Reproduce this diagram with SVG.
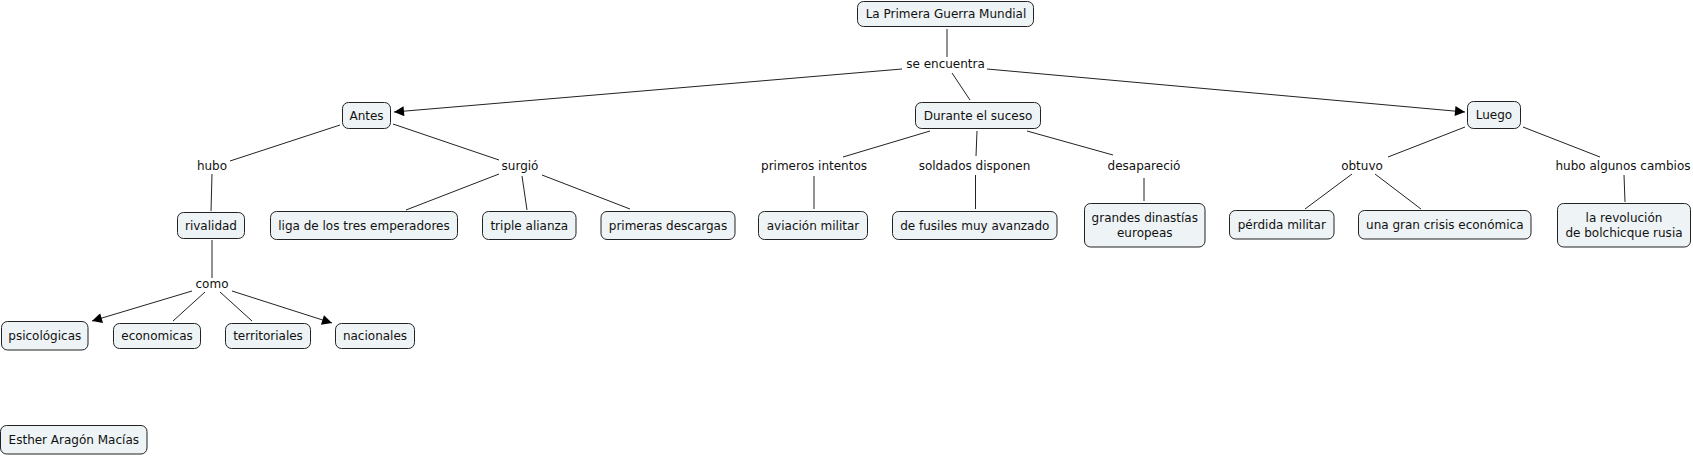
<svg xmlns="http://www.w3.org/2000/svg" width="1693" height="456" viewBox="0 0 1693 456">
<style>
.n rect{fill:#eef3f5;stroke:#222;stroke-width:1}
text{font-family:"DejaVu Sans",Verdana,sans-serif;font-size:12px;fill:#111;text-anchor:middle}
.c line{stroke:#222;stroke-width:1}
</style>
<defs>
<marker id="ah" viewBox="0 0 10 10" refX="10" refY="5" markerWidth="12" markerHeight="10" markerUnits="userSpaceOnUse" orient="auto">
<path d="M0,0L10,5L0,10z" fill="#000"/>
</marker>
</defs>
<rect width="1693" height="456" fill="#fff"/>
<g class="c" id="connectors">
<line x1="947" y1="29" x2="947" y2="57"/>
<line x1="902" y1="69" x2="394" y2="112" marker-end="url(#ah)"/>
<line x1="952" y1="73" x2="970" y2="100"/>
<line x1="987" y1="69" x2="1465" y2="112" marker-end="url(#ah)"/>
<line x1="340" y1="125" x2="230" y2="161"/>
<line x1="393" y1="124" x2="499" y2="160"/>
<line x1="212" y1="174" x2="211" y2="211"/>
<line x1="499" y1="174" x2="406" y2="210"/>
<line x1="522" y1="176" x2="527" y2="210"/>
<line x1="542" y1="175" x2="630" y2="209"/>
<line x1="212" y1="240" x2="212" y2="278"/>
<line x1="192" y1="291" x2="92" y2="321" marker-end="url(#ah)"/>
<line x1="205" y1="292" x2="173" y2="321"/>
<line x1="220" y1="292" x2="252" y2="321"/>
<line x1="232" y1="291" x2="332" y2="323" marker-end="url(#ah)"/>
<line x1="930" y1="131" x2="843" y2="157"/>
<line x1="977" y1="131" x2="976" y2="156"/>
<line x1="1027" y1="131" x2="1113" y2="155"/>
<line x1="814" y1="176" x2="814" y2="209"/>
<line x1="975.5" y1="175" x2="975.5" y2="209"/>
<line x1="1144" y1="178" x2="1144" y2="201"/>
<line x1="1465" y1="127" x2="1388" y2="157"/>
<line x1="1523" y1="127" x2="1600" y2="157"/>
<line x1="1352" y1="174" x2="1305" y2="209"/>
<line x1="1375" y1="174" x2="1421" y2="209"/>
<line x1="1624" y1="175" x2="1625" y2="202"/>
</g>
<g id="labels">
<text id="l-se" x="945.5" y="68.3">se encuentra</text>
<text id="l-hubo" x="212" y="170.3">hubo</text>
<text id="l-surgio" x="520" y="170.3">surgió</text>
<text id="l-como" x="212" y="288.3">como</text>
<text id="l-primeros" x="814" y="170.3">primeros intentos</text>
<text id="l-soldados" x="974.5" y="170.3">soldados disponen</text>
<text id="l-desaparecio" x="1144" y="170.3">desapareció</text>
<text id="l-obtuvo" x="1362" y="170.3">obtuvo</text>
<text id="l-cambios" x="1623" y="170.3">hubo algunos cambios</text>
</g>
<g class="n" id="n-primera"><rect x="857.5" y="1.5" width="176" height="25" rx="6"/><text x="946" y="18.3">La Primera Guerra Mundial</text></g>
<g class="n" id="n-antes"><rect x="342.5" y="102.5" width="48" height="26" rx="6"/><text x="366.5" y="119.8">Antes</text></g>
<g class="n" id="n-durante"><rect x="915.5" y="102.5" width="125" height="26" rx="6"/><text x="978" y="119.8">Durante el suceso</text></g>
<g class="n" id="n-luego"><rect x="1467.5" y="101.5" width="53" height="27" rx="6"/><text x="1494" y="119.3">Luego</text></g>
<g class="n" id="n-rivalidad"><rect x="177.5" y="212.5" width="67" height="26" rx="6"/><text x="211" y="229.8">rivalidad</text></g>
<g class="n" id="n-liga"><rect x="270.5" y="211.5" width="187" height="28" rx="6"/><text x="364" y="229.8">liga de los tres emperadores</text></g>
<g class="n" id="n-triple"><rect x="482.5" y="211.5" width="93.5" height="28" rx="6"/><text x="529.3" y="229.8">triple alianza</text></g>
<g class="n" id="n-primeras"><rect x="601" y="211.5" width="134" height="28" rx="6"/><text x="668" y="229.8">primeras descargas</text></g>
<g class="n" id="n-aviacion"><rect x="758.5" y="211.5" width="109" height="28" rx="6"/><text x="813" y="229.8">aviación militar</text></g>
<g class="n" id="n-fusiles"><rect x="892.5" y="211.5" width="164.5" height="28" rx="6"/><text x="974.8" y="229.8">de fusiles muy avanzado</text></g>
<g class="n" id="n-grandes"><rect x="1084.5" y="203.5" width="120.5" height="43.5" rx="6"/><text x="1144.8" y="222.3">grandes dinastías</text><text x="1144.8" y="236.5">europeas</text></g>
<g class="n" id="n-perdida"><rect x="1229.5" y="210.5" width="104.5" height="28.5" rx="6"/><text x="1281.8" y="229.3">pérdida militar</text></g>
<g class="n" id="n-crisis"><rect x="1358.5" y="210.5" width="172.5" height="28.5" rx="6"/><text x="1444.8" y="229.3">una gran crisis económica</text></g>
<g class="n" id="n-revolucion"><rect x="1557.5" y="203.5" width="133" height="43.5" rx="6"/><text x="1624" y="222.3">la revolución</text><text x="1624" y="236.5">de bolchicque rusia</text></g>
<g class="n" id="n-psico"><rect x="1.5" y="321.5" width="86.5" height="28.5" rx="6"/><text x="44.8" y="340">psicológicas</text></g>
<g class="n" id="n-economicas"><rect x="113.5" y="323.5" width="87" height="25" rx="6"/><text x="157" y="340.3">economicas</text></g>
<g class="n" id="n-territoriales"><rect x="225.5" y="323.5" width="85" height="25" rx="6"/><text x="268" y="340.3">territoriales</text></g>
<g class="n" id="n-nacionales"><rect x="335.5" y="323.5" width="79" height="25" rx="6"/><text x="375" y="340.3">nacionales</text></g>
<g class="n" id="n-esther"><rect x="0.5" y="425.5" width="146.5" height="28.5" rx="6"/><text x="73.8" y="444">Esther Aragón Macías</text></g>
</svg>
